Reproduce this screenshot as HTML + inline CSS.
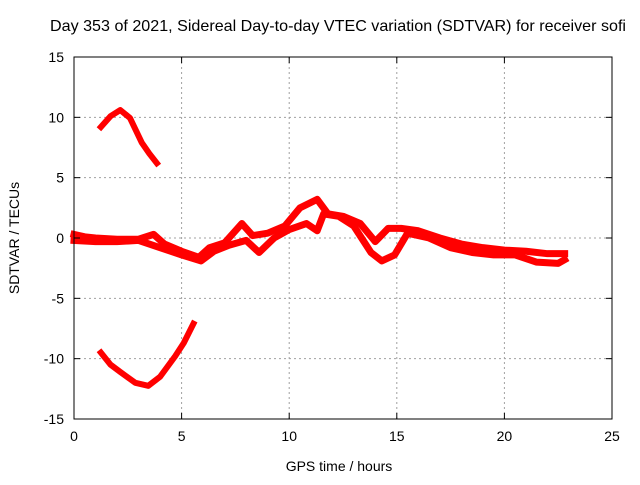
<!DOCTYPE html>
<html><head><meta charset="utf-8"><style>
body{margin:0;background:#fff}
svg text{font-family:"Liberation Sans",sans-serif;font-size:14px;fill:#000}
</style></head><body>
<svg id="c" width="640" height="480">
<rect width="640" height="480" fill="#fff"/>
<text x="338" y="31" text-anchor="middle" style="font-size:16px" textLength="576" lengthAdjust="spacingAndGlyphs">Day 353 of 2021, Sidereal Day-to-day VTEC variation (SDTVAR) for receiver sofi</text>
<g id="grid"></g><g id="series"></g><g id="axes"></g>
<text x="339" y="471" text-anchor="middle">GPS time / hours</text>
<text transform="translate(19,238) rotate(-90)" text-anchor="middle">SDTVAR / TECUs</text>
</svg>
<script>
const xTicks=[0,5,10,15,20,25];
const yTicks=[15,10,5,0,-5,-10,-15];
const topArcX=[1.25,1.7,2.15,2.6,3.15,3.5,3.85];
const topArcY=[9.2,10.1,10.6,9.95,7.9,7.0,6.2];
const botArcX=[1.25,1.7,2.15,2.85,3.45,4.0,4.7,5.1,5.55];
const botArcY=[-9.5,-10.5,-11.1,-12.0,-12.25,-11.5,-9.8,-8.7,-7.1];
const upX=[0,0.5,1,2,3,3.7,4.2,5,5.8,6.3,7,7.8,8.3,9,9.8,10.5,11.3,11.8,12.5,13.3,14,14.6,15.2,16,17,18,19,20,21,22,22.8];
const upY=[0.3,0.1,0,-0.1,-0.1,0.3,-0.5,-1.1,-1.6,-0.8,-0.4,1.2,0.2,0.4,1,2.5,3.2,2,1.8,1.2,-0.3,0.8,0.8,0.6,0,-0.5,-0.8,-1,-1.1,-1.3,-1.3];
const loX=[0,1,2,3,4,5,5.9,6.5,7.2,8,8.6,9.3,10,10.8,11.3,11.6,12.3,13,13.8,14.3,14.9,15.5,16.5,17.5,18.5,19.5,20.5,21.5,22.5,22.8];
const loY=[-0.2,-0.3,-0.3,-0.2,-0.8,-1.4,-1.9,-1.1,-0.6,-0.2,-1.2,0,0.7,1.2,0.6,2,1.8,1.0,-1.2,-1.9,-1.4,0.4,0,-0.8,-1.2,-1.4,-1.4,-2.0,-2.1,-1.8];
const X0=74,X1=612,Y0=419,Y1=57;
const sx=v=>X0+(v-0)/25*(X1-X0);
const sy=v=>Y0-(v+15)/30*(Y0-Y1);
const NS='http://www.w3.org/2000/svg';
function mk(t,a,p){const e=document.createElementNS(NS,t);for(const k in a)e.setAttribute(k,a[k]);p.appendChild(e);return e;}
const grid=document.getElementById('grid'),axes=document.getElementById('axes'),ser=document.getElementById('series');
xTicks.forEach(t=>{
 if(t>0&&t<25){const l=mk('line',{x1:sx(t),x2:sx(t),y1:Y1,y2:Y0,stroke:'#a0a0a0','stroke-dasharray':'2,3'},grid);
 
 }
 const tx=mk('text',{x:sx(t),y:Y0+22,'text-anchor':'middle'},axes);tx.textContent=t;
 
 
 mk('line',{x1:sx(t),x2:sx(t),y1:Y0,y2:Y0-6,stroke:'#000'},axes);
 mk('line',{x1:sx(t),x2:sx(t),y1:Y1,y2:Y1+6,stroke:'#000'},axes);
});
yTicks.forEach(t=>{
 if(t>-15&&t<15){const l=mk('line',{x1:X0,x2:X1,y1:sy(t),y2:sy(t),stroke:'#a0a0a0','stroke-dasharray':'2,3'},grid);
 
 }
 const tx=mk('text',{x:X0-10,y:sy(t)+5,'text-anchor':'end'},axes);tx.textContent=t;
 
 
 mk('line',{x1:X0,x2:X0+6,y1:sy(t),y2:sy(t),stroke:'#000'},axes);
 mk('line',{x1:X1,x2:X1-6,y1:sy(t),y2:sy(t),stroke:'#000'},axes);
});
const fr=mk('rect',{x:X0,y:Y1,width:X1-X0,height:Y0-Y1,fill:'none',stroke:'#000'},axes);


function line(xs,ys,name,w){
 const p=mk('polyline',{points:xs.map((x,i)=>sx(x)+','+sy(ys[i])).join(' '),fill:'none',stroke:'#ff0000','stroke-width':w,'stroke-linejoin':'round','stroke-linecap':'square'},ser);
 
 
}
line(topArcX,topArcY,'series-top-arc',6);
line(botArcX,botArcY,'series-bottom-arc',6);
line(upX,upY,'series-main-upper',7);
line(loX,loY,'series-main-lower',7);
</script>
</body></html>
